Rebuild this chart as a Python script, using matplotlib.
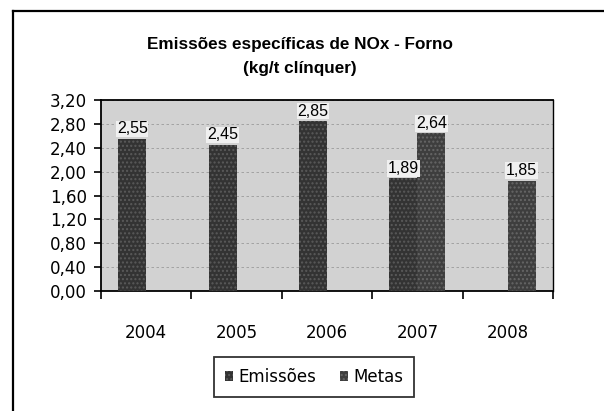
import matplotlib
matplotlib.use("Agg")
import matplotlib.pyplot as plt
import numpy as np
from matplotlib.lines import Line2D

years = ["2004", "2005", "2006", "2007", "2008"]
emissoes = [2.55, 2.45, 2.85, 1.89, np.nan]
metas = [np.nan, np.nan, np.nan, 2.64, 1.85]
yticks = [0.0, 0.4, 0.8, 1.2, 1.6, 2.0, 2.4, 2.8, 3.2]

plt.rcParams['font.family'] = ['DejaVu Sans']

fig = plt.figure(figsize=(6.04, 4.11), dpi=100)
fig.patch.set_facecolor('white')
# outer frame (top and left edges)
fig.add_artist(Line2D([13/604, 1.0], [1 - 11/411, 1 - 11/411], transform=fig.transFigure,
                      color='black', lw=1.6))
fig.add_artist(Line2D([13/604, 13/604], [0, 1 - 11/411], transform=fig.transFigure,
                      color='black', lw=1.6))

ax = fig.add_axes([101/604, 1 - 291/411, 452/604, 191/411])
ax.set_facecolor('#d2d2d2')

x = np.arange(len(years))
w = 0.31
b1 = ax.bar(x - w/2, emissoes, w, color='#333333', label='Emissões', zorder=3, hatch='....',
            edgecolor='#5a5a5a', linewidth=0)
b2 = ax.bar(x + w/2, metas, w, color='#3e3e3e', label='Metas', zorder=3, hatch='....',
            edgecolor='#666666', linewidth=0)

def fmt(v):
    return f"{v:.2f}".replace('.', ',')

for bars, vals in ((b1, emissoes), (b2, metas)):
    for rect, v in zip(bars, vals):
        if np.isnan(v):
            continue
        ax.text(rect.get_x() + rect.get_width()/2, v + 0.04, fmt(v), ha='center', va='bottom',
                fontsize=11.5, family='Liberation Sans', zorder=4,
                bbox=dict(boxstyle='square,pad=0.05', facecolor='#f0f0f0', edgecolor='none'))

ax.set_ylim(0, 3.2)
ax.set_xlim(-0.5, len(years) - 0.5)
ax.set_yticks(yticks)
ax.set_yticklabels([fmt(v) for v in yticks], fontsize=12)
ax.set_xticks(x)
ax.set_xticklabels(years, fontsize=12)
ax.tick_params(axis='x', length=0, pad=24)
ax.set_xticks(np.arange(-0.5, len(years)), minor=True)
ax.tick_params(axis='x', which='minor', length=6, direction='out', width=1.2)
ax.tick_params(axis='y', length=5, direction='out', width=1.2, pad=5)
ax.yaxis.grid(True, linestyle=(0, (3, 3)), color='#9a9a9a', linewidth=0.6, zorder=1)
for s in ['left', 'bottom', 'top']:
    ax.spines[s].set_linewidth(1.3)
ax.spines['right'].set_linewidth(1.0)

fig.text(0.497, 1 - 45/411, "Emissões específicas de NOx - Forno", ha='center', va='center',
         fontsize=12.3, fontweight='bold', family='Liberation Sans')
fig.text(0.497, 1 - 68/411, "(kg/t clínquer)", ha='center', va='center',
         fontsize=12.3, fontweight='bold', family='Liberation Sans')

leg = fig.legend(handles=[b1, b2], loc='center', bbox_to_anchor=(314/604, 1 - 377/411),
                 ncol=2, fontsize=12, frameon=True, fancybox=False, edgecolor='black',
                 handlelength=0.5, handleheight=0.5, handletextpad=0.3, columnspacing=1.4,
                 borderpad=0.65, borderaxespad=0)
leg.get_frame().set_linewidth(1.3)

fig.savefig('out.png', dpi=100)
